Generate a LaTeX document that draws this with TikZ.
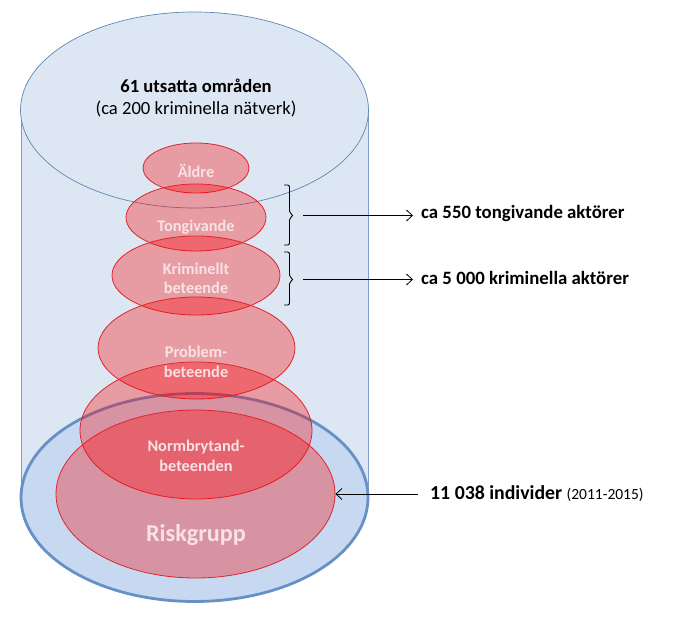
\documentclass[tikz,border=0pt]{standalone}
\usepackage{fontspec}
\setmainfont{Carlito}
\usetikzlibrary{shapes.geometric,arrows.meta}
\definecolor{bodyfill}{HTML}{DDE7F3}
\definecolor{bodyline}{HTML}{7A9CC6}
\definecolor{topline}{HTML}{5F86B4}
\definecolor{basefill}{HTML}{C6D9F1}
\definecolor{baseline}{HTML}{6690C6}
\definecolor{redline}{HTML}{E0242E}
\definecolor{lbl}{HTML}{F8E2E4}
\tikzset{
  redell/.style={ellipse, draw=redline, line width=0.8pt, fill=red, fill opacity=0.32, draw opacity=1, inner sep=0pt},
  elltext/.style={text=lbl, font=\fontsize{16.3}{19.5}\selectfont\bfseries, align=center, inner sep=0pt},
  sidetext/.style={font=\fontsize{18.8}{22}\selectfont\bfseries, anchor=west, inner sep=0pt},
  arr/.style={draw=black, line width=0.8pt, -{Straight Barb[length=6pt,width=11pt,line width=0.8pt]}},
  bracestyle/.style={draw=black, line width=0.9pt, rounded corners=2pt},
}
\begin{document}
\begin{tikzpicture}[x=1pt,y=-1pt]
\useasboundingbox (0,0) rectangle (689,620);
% cylinder body
\fill[bodyfill] (21,110) rectangle (368,498);
\draw[bodyline, line width=0.8pt] (21,110) -- (21,498);
\draw[bodyline, line width=0.8pt] (368,110) -- (368,498);
% top ellipse
\node[ellipse, draw=topline, line width=0.7pt, fill=bodyfill, minimum width=348pt, minimum height=196pt, inner sep=0pt] (top) at (194.5,110) {};
% base ellipse
\node[ellipse, draw=baseline, line width=2.8pt, fill=basefill, minimum width=347pt, minimum height=208pt, inner sep=0pt] (base) at (194.5,497.5) {};
% red ellipses
\node[redell, minimum width=106pt, minimum height=50pt] (aldre) at (196,168) {};
\node[redell, minimum width=140pt, minimum height=67pt] (tong) at (196,217.5) {};
\node[redell, minimum width=168pt, minimum height=79pt] (krim) at (196,275.5) {};
\node[redell, minimum width=197pt, minimum height=102pt] (prob) at (196.5,348) {};
\node[redell, minimum width=232pt, minimum height=137pt] (norm) at (196,430.5) {};
\node[redell, minimum width=279pt, minimum height=168pt] (risk) at (195.5,494) {};
% texts
\node[font=\fontsize{18.6}{22}\selectfont\bfseries, inner sep=0pt] (t61) at (196,86) {61 utsatta områden};
\node[font=\fontsize{18.6}{22}\selectfont, inner sep=0pt] (t200) at (196,109) {(ca 200 kriminella nätverk)};
\node[elltext] (laldre) at (196,171) {Äldre};
\node[elltext] (ltong) at (196,227) {Tongivande};
\node[elltext] (lkrim) at (196,278.5) {Kriminellt\\beteende};
\node[elltext] (lprob) at (196,362) {Problem-\\beteende};
\node[elltext] (lnorm) at (196,456) {Normbrytand-\\beteenden};
\node[text=lbl, font=\fontsize{24.2}{28}\selectfont\bfseries, inner sep=0pt] (lrisk) at (196,535) {Riskgrupp};
% braces
\draw[bracestyle] (284,185) -- (289.5,185) -- (289.5,213) -- (293.5,215.5) -- (289.5,218) -- (289.5,245) -- (284,245);
\draw[bracestyle] (284,252) -- (289.5,252) -- (289.5,277) -- (293.5,279.5) -- (289.5,282) -- (289.5,305) -- (284,305);
\coordinate (b1) at (303,215.5);
\coordinate (b2) at (303,279.5);
% side labels
\node[sidetext] (s550) at (421,213) {ca 550 tongivande aktörer};
\node[sidetext] (s5000) at (421,278) {ca 5 000 kriminella aktörer};
\node[sidetext, font=\fontsize{19.8}{23}\selectfont\bfseries] (sind) at (430,494) {11 038 individer {\mdseries\fontsize{15.5}{18}\selectfont (2011-2015)}};
% arrows
\draw[arr, shorten >=8pt] (b1) -- (b1 -| s550.west);
\draw[arr, shorten >=8pt] (b2) -- (b2 -| s5000.west);
\draw[arr, shorten <=12pt] (sind.west |- risk.east) -- (risk.east);
\end{tikzpicture}
\end{document}
